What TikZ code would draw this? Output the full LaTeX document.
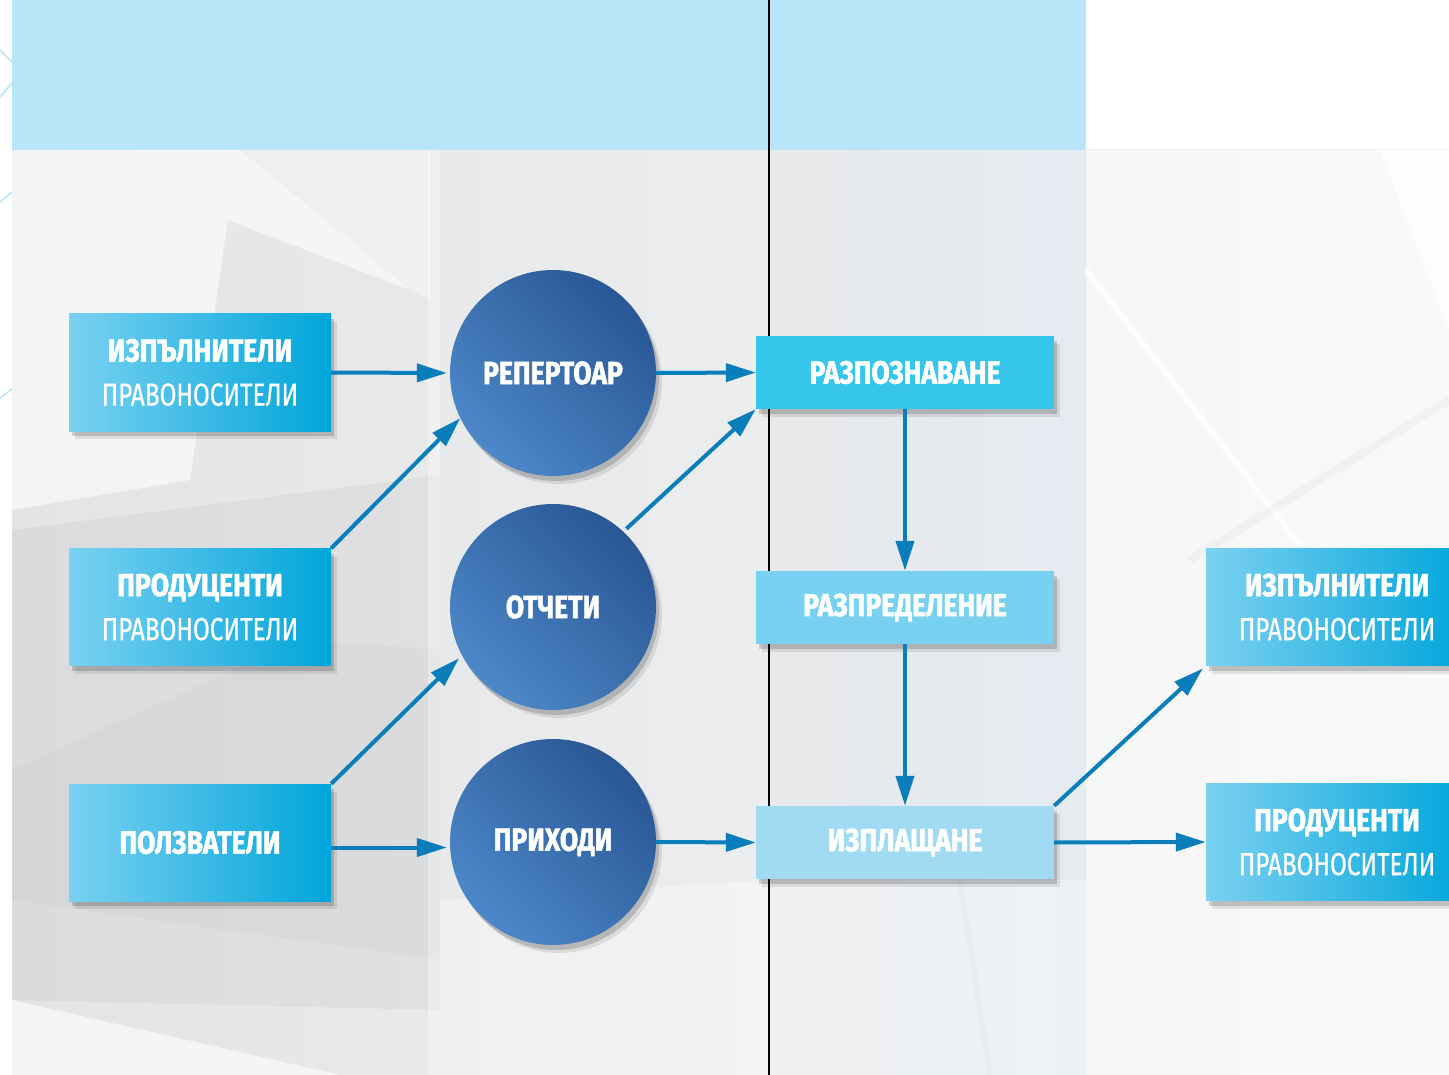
\documentclass[tikz,border=0pt]{standalone}
\usepackage{fontspec}
\newfontfamily\condB[FakeStretch=0.83, FakeBold=1.5]{Fira Sans}
\newfontfamily\condR[FakeStretch=0.76, FakeBold=0.5]{Fira Sans}
\usetikzlibrary{arrows.meta,shadows,calc}
\definecolor{band}{HTML}{B9E5F9}
\definecolor{boxL}{HTML}{7AD1F1}
\definecolor{boxR}{HTML}{00A5DA}
\definecolor{circD}{HTML}{2A5796}
\definecolor{circL}{HTML}{4C88C8}
\definecolor{midA}{HTML}{36C5EB}
\definecolor{midB}{HTML}{78D1F1}
\definecolor{midC}{HTML}{A0DBF3}
\definecolor{arrc}{HTML}{0A7EBB}
\definecolor{bgA}{HTML}{E3E4E6}
\definecolor{bgB}{HTML}{F4F5F5}
\definecolor{colL}{HTML}{E6E8EA}
\definecolor{colR}{HTML}{E0E9F1}
\tikzset{
  lbl/.style={font=\condB\bfseries\fontsize{32}{44}\selectfont, text=white, align=center, inner sep=0pt},
  sh/.style={drop shadow={shadow xshift=3pt, shadow yshift=-5pt, opacity=0.16, fill=black},
             drop shadow={shadow xshift=6pt, shadow yshift=-8pt, opacity=0.09, fill=black}},
  sidebox/.style={lbl, sh, minimum width=262pt, minimum height=117pt, left color=boxL, right color=boxR},
  circ/.style={lbl, sh, circle, minimum size=206pt, shading=axis, top color=circD, bottom color=circL, shading angle=-45},
  midbox/.style={lbl, sh, minimum width=298pt, minimum height=73pt},
  arr/.style={draw=arrc, line width=4pt, -{Triangle[length=30pt,width=18pt]}},
  deco/.style={draw=band, line width=1.5pt}
}
\newcommand{\twolines}[2]{{\condB\bfseries #1}\\{\condR\mdseries #2}}
\begin{document}
\begin{tikzpicture}[x=1pt,y=-1pt]
\useasboundingbox (0,0) rectangle (1449,1075);
% background
\fill[white] (0,0) rectangle (1449,1075);
\shade[left color=bgA, right color=bgB] (12,150) rectangle (1449,1075);
\fill[white, opacity=0.6] (12,150) -- (240,150) -- (410,290) -- (228,220) -- (190,480) -- (12,510) -- cycle;
\fill[white, opacity=0.35] (240,150) -- (430,150) -- (430,300) -- (410,290) -- cycle;
\fill[black, opacity=0.035] (12,530) -- (440,475) -- (440,1010) -- (12,1000) -- cycle;
\fill[black, opacity=0.02] (12,770) -- (300,640) -- (440,650) -- (440,960) -- (12,900) -- cycle;
\fill[white, opacity=0.6] (12,1000) -- (340,1075) -- (12,1075) -- cycle;
\fill[white, opacity=0.35] (428,150) rectangle (440,1075);
\fill[white, opacity=0.35] (440,900) -- (770,880) -- (770,1075) -- (440,1075) -- cycle;
% blue-tinted column
\shade[left color=colL, right color=colR, opacity=0.7] (769,150) rectangle (1086,1075);
\fill[white, opacity=0.35] (769,880) -- (1086,880) -- (1086,1075) -- (769,1075) -- cycle;
\fill[white, opacity=0.45] (1086,150) rectangle (1449,1075);
\fill[white, opacity=0.8] (1380,150) -- (1449,150) -- (1449,330) -- cycle;
\draw[white, line width=6pt, opacity=0.8] (1086,270) -- (1300,545);
\draw[black!40, line width=8pt, opacity=0.07] (1190,560) -- (1449,400);
\draw[black!40, line width=6pt, opacity=0.06] (960,880) -- (990,1075);
% top band
\fill[band] (12,0) rectangle (1086,150);
% decorative lines at left edge
\draw[deco] (0,50) -- (12,62);
\draw[deco] (0,97) -- (12,83);
\draw[deco] (0,202) -- (12,192);
\draw[deco] (0,398) -- (12,389);
% vertical line
\draw[black, line width=2pt] (769,0) -- (769,1075);
% left boxes
\node[sidebox] (b1) at (200,372.5) {\twolines{ИЗПЪЛНИТЕЛИ}{ПРАВОНОСИТЕЛИ}};
\node[sidebox] (b2) at (200,607) {\twolines{ПРОДУЦЕНТИ}{ПРАВОНОСИТЕЛИ}};
\node[sidebox] (b3) at (200,842.5) {ПОЛЗВАТЕЛИ};
% circles
\node[circ] (c1) at (553,373) {РЕПЕРТОАР};
\node[circ] (c2) at (553,607) {ОТЧЕТИ};
\node[circ] (c3) at (553,842) {ПРИХОДИ};
% middle boxes
\node[midbox, fill=midA] (m1) at (905,372.5) {РАЗПОЗНАВАНЕ};
\node[midbox, fill=midB] (m2) at (905,607.5) {РАЗПРЕДЕЛЕНИЕ};
\node[midbox, fill=midC] (m3) at (905,842.5) {ИЗПЛАЩАНЕ};
% right boxes
\node[sidebox] (r1) at (1337,607) {\twolines{ИЗПЪЛНИТЕЛИ}{ПРАВОНОСИТЕЛИ}};
\node[sidebox] (r2) at (1337,842) {\twolines{ПРОДУЦЕНТИ}{ПРАВОНОСИТЕЛИ}};
% arrows
\draw[arr, shorten >=3pt] (b1.east) -- (c1.west);
\draw[arr] (b2.north east) -- (c1.206.8);
\draw[arr, shorten >=4pt] (b3.north east) -- (c2.208);
\draw[arr, shorten >=3pt] ([yshift=-5pt]b3.east) -- ([yshift=-5pt]b3.east -| c3.west);
\draw[arr] (c1.east) -- (m1.west);
\draw[arr, shorten <=4pt] (c2.47) -- (m1.south west);
\draw[arr] (c3.east) -- (m3.west);
\draw[arr] (m1.south) -- (m2.north);
\draw[arr] (m2.south) -- (m3.north);
\draw[arr, shorten >=4pt] (m3.north east) -- (r1.south west);
\draw[arr] (m3.east) -- (r2.west);
\end{tikzpicture}
\end{document}
